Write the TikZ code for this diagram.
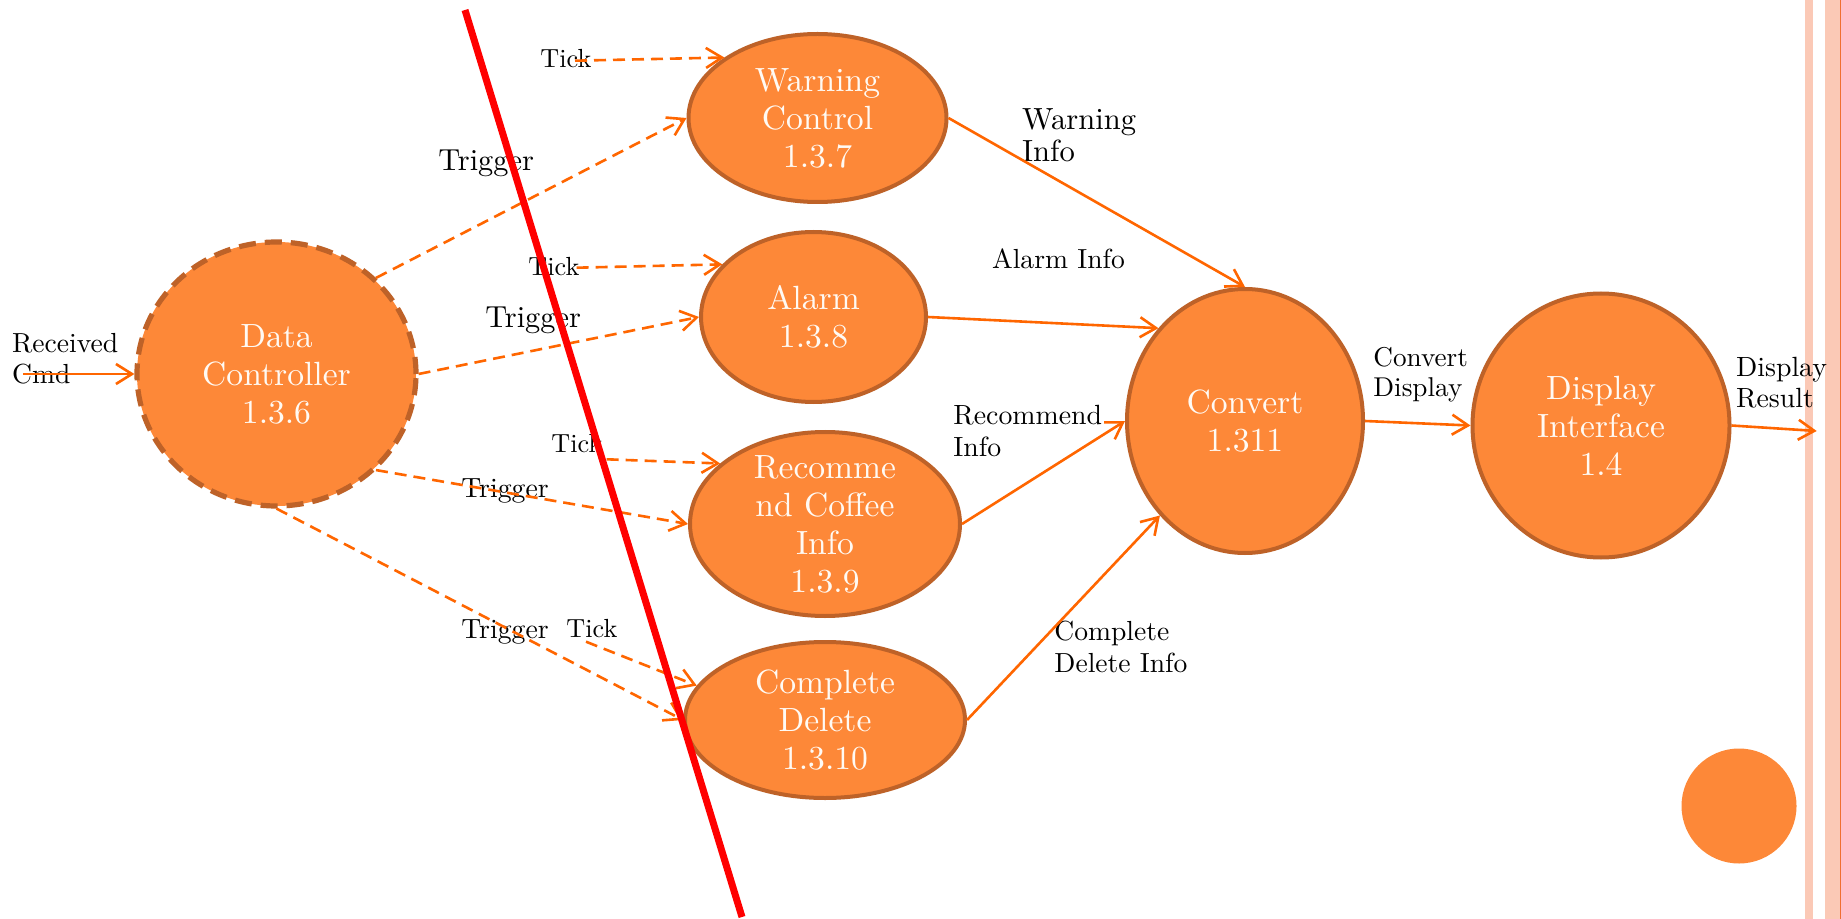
\documentclass[tikz,border=0pt]{standalone}
\usetikzlibrary{arrows.meta,shapes.geometric}
\definecolor{nodefill}{RGB}{253,136,56}
\definecolor{nodeborder}{RGB}{190,98,40}
\definecolor{flow}{RGB}{255,102,0}
\definecolor{stripe}{RGB}{251,201,182}
\definecolor{edgeline}{RGB}{240,110,50}
\definecolor{nodetext}{RGB}{255,250,244}
% Latin Modern at its 10pt design, scaled to any size
\newcommand\lmat[2]{\fontsize{#1}{#2}\selectfont\font\lmtmpfont="[lmroman10-regular]" at #1pt\lmtmpfont}
\begin{document}
\begin{tikzpicture}[x=0.5pt,y=-0.5pt,
  proc/.style={ellipse, fill=nodefill, draw=nodeborder, line width=2pt, text=nodetext,
    align=center, inner sep=-40pt, font=\lmat{16.8}{19}},
  dashproc/.style={proc, line width=2.6pt, dash pattern=on 8.5pt off 4.5pt},
  lbl/.style={anchor=base west, align=left, inner sep=0pt, text=black},
  flowarrow/.style={draw=flow, line width=1.3pt, -{Straight Barb[length=8pt,width=10pt]}},
  dflow/.style={flowarrow, dash pattern=on 6pt off 3.5pt},
]
\useasboundingbox (0,0) rectangle (1841,919);
\fill[white] (0,0) rectangle (1841,919);

% stripes at the right edge
\fill[stripe] (1805,0) rectangle (1813,919);
\fill[stripe] (1825,0) rectangle (1839.5,919);
\fill[edgeline] (1839.5,0) rectangle (1841,919);

% small decorative circle
\fill[nodefill] (1739,806) circle[radius=57.5];

% process nodes
\node[dashproc, minimum width=139.5pt, minimum height=132pt] (dc) at (276.5,374) {Data\\Controller\\1.3.6};
\node[proc, minimum width=129pt, minimum height=84pt] (wc) at (817.5,118) {Warning\\Control\\1.3.7};
\node[proc, minimum width=112.5pt, minimum height=85pt] (al) at (813.5,317) {Alarm\\1.3.8};
\node[proc, minimum width=135pt, minimum height=92pt] (rc) at (825,524) {Recomme\\nd Coffee\\Info\\1.3.9};
\node[proc, minimum width=140pt, minimum height=78pt] (cd) at (825,720) {Complete\\Delete\\1.3.10};
\node[proc, minimum width=118pt, minimum height=132pt] (cv) at (1245,421) {Convert\\1.311};
\node[proc, minimum width=128.5pt, minimum height=132pt] (di) at (1601,425.5) {Display\\Interface\\1.4};

% labels (multi-line labels are anchored at the baseline of their last line)
\node[lbl, font=\lmat{13.8}{15.5}] (lrc) at (11.7,384) {Received\\Cmd};
\node[lbl, font=\lmat{13.1}{15}] (ltk1) at (540,67.7) {Tick};
\node[lbl, font=\lmat{15.2}{17}] (ltr1) at (438,170.7) {Trigger};
\node[lbl, font=\lmat{13.1}{15}] (ltk2) at (528,276) {Tick};
\node[lbl, font=\lmat{15.2}{17}] (ltr2) at (485,328) {Trigger};
\node[lbl, font=\lmat{13.1}{15}] (ltk3) at (551,452.7) {Tick};
\node[lbl, font=\lmat{13.9}{15}] (ltr3) at (461,497) {Trigger};
\node[lbl, font=\lmat{13.1}{15}] (ltk4) at (566,637) {Tick};
\node[lbl, font=\lmat{13.9}{15}] (ltr4) at (461,638) {Trigger};
\node[lbl, font=\lmat{15.3}{16.2}] (lwi) at (1021.7,161.7) {Warning\\Info};
\node[lbl, font=\lmat{13.8}{15}] (lai) at (991.7,268.3) {Alarm Info};
\node[lbl, font=\lmat{13.9}{16.3}] (lri) at (953,457) {Recommend\\Info};
\node[lbl, font=\lmat{13.8}{15.9}] (lcdi) at (1054,672.4) {Complete\\Delete Info};
\node[lbl, font=\lmat{13.6}{15.3}] (lcd) at (1373,396.7) {Convert\\Display};
\node[lbl, font=\lmat{13.9}{15.6}] (ldr) at (1735.7,407.3) {Display\\Result};

% free ends
\coordinate (cmdin) at (23,374);
\coordinate (tk1) at (575,60.7);
\coordinate (tk2) at (576.7,267.7);
\coordinate (tk3) at (606.7,459.3);
\coordinate (tk4) at (586,641.7);
\coordinate (out) at (1816.7,431);

% connectors
\draw[flowarrow] (cmdin) -- (dc.west);
\draw[dflow] (dc.44) -- (wc.west);
\draw[dflow] (dc.east) -- (al.west);
\draw[dflow] (dc.316) -- (rc.west);
\draw[dflow] (dc.south) -- (cd.west);
\draw[dflow] (tk1) -- (wc.147);
\draw[dflow] (tk2) -- (al.150);
\draw[dflow] (tk3) -- (rc.150);
\draw[dflow] (tk4) -- (cd.165);
\draw[flowarrow] (wc.east) -- (cv.north);
\draw[flowarrow] (al.east) -- (cv.133);
\draw[flowarrow] (rc.east) -- (cv.west);
\draw[flowarrow] (cd.east) -- (cv.228);
\draw[flowarrow] (cv.east) -- (di.west);
\draw[flowarrow] (di.east) -- (out);

% red boundary line
\draw[red, line width=3.5pt] (465,10) -- (742,917);
\end{tikzpicture}
\end{document}
